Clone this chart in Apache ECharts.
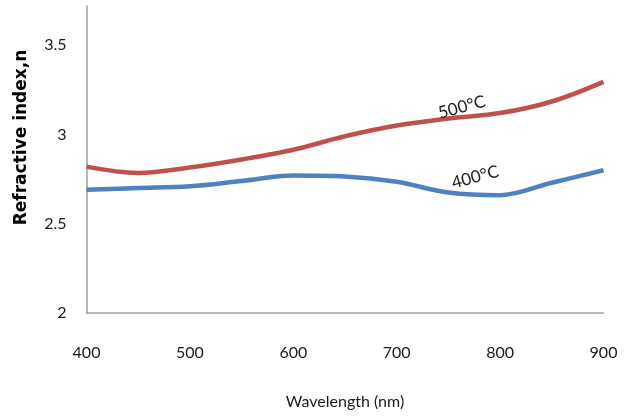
<!DOCTYPE html>
<html>
<head>
<meta charset="utf-8">
<script src="https://cdn.jsdelivr.net/npm/echarts@6/dist/echarts.min.js"></script>
<style>
  html, body { margin: 0; padding: 0; background: #ffffff; }
  #chart { width: 632px; height: 416px; }
</style>
</head>
<body>
<div id="chart"></div>
<script>
// Wavelength samples (nm) and refractive index for the two annealing temperatures
const wavelengths = [400, 450, 500, 550, 600, 650, 700, 750, 800, 850, 900];
const n500C = [2.82, 2.785, 2.815, 2.86, 2.915, 2.99, 3.05, 3.09, 3.12, 3.185, 3.295];
const n400C = [2.69, 2.70, 2.71, 2.74, 2.77, 2.765, 2.735, 2.675, 2.66, 2.73, 2.80];
const seriesNames = ['500°C', '400°C'];

const pairs = (xs, ys) => xs.map((x, i) => [x, ys[i]]);

const FONT = 'Lato, "Open Sans", sans-serif';

const chart = echarts.init(document.getElementById('chart'), null, { renderer: 'canvas' });

function curveLabel(text, coord) {
  return {
    symbol: 'circle',
    symbolSize: 0,
    silent: true,
    data: [{ coord: coord, value: text }],
    label: {
      show: true,
      position: 'inside',
      formatter: text,
      rotate: 15,
      color: '#1a1a1a',
      fontFamily: FONT,
      fontSize: 17
    }
  };
}

chart.setOption({
  backgroundColor: '#ffffff',
  animation: false,
  grid: { left: 86.5, right: 28.5, top: 6, bottom: 103, containLabel: false },
  xAxis: {
    type: 'value',
    min: 400,
    max: 900,
    interval: 100,
    name: 'Wavelength (nm)',
    nameLocation: 'middle',
    nameGap: 81,
    nameTextStyle: { color: '#1a1a1a', fontFamily: FONT, fontSize: 16 },
    axisLine: { show: true, lineStyle: { color: '#a0a0a0', width: 1.5 } },
    axisTick: { show: false },
    splitLine: { show: false },
    axisLabel: { color: '#1a1a1a', fontFamily: FONT, fontSize: 16, margin: 32 }
  },
  yAxis: {
    type: 'value',
    min: 2,
    max: 3.72,
    interval: 0.5,
    name: 'Refractive index,n',
    nameLocation: 'middle',
    nameGap: 56,
    nameRotate: 90,
    nameTextStyle: {
      color: '#000000', fontFamily: '"DejaVu Sans", sans-serif', fontSize: 17, fontWeight: 'bold',
      padding: [0, 0, 0, 44]
    },
    axisLine: { show: true, lineStyle: { color: '#a0a0a0', width: 1.5 } },
    axisTick: { show: false },
    splitLine: { show: false },
    axisLabel: {
      color: '#1a1a1a', fontFamily: FONT, fontSize: 16, margin: 20,
      showMaxLabel: false, padding: [4, 0, 0, 0],
      formatter: v => String(v)
    }
  },
  series: [
    {
      name: seriesNames[0],
      type: 'line',
      smooth: 0.35,
      showSymbol: false,
      data: pairs(wavelengths, n500C),
      lineStyle: { color: '#C0504D', width: 4.5 },
      itemStyle: { color: '#C0504D' },
      markPoint: curveLabel(seriesNames[0], [763, 3.153])
    },
    {
      name: seriesNames[1],
      type: 'line',
      smooth: 0.35,
      showSymbol: false,
      data: pairs(wavelengths, n400C),
      lineStyle: { color: '#4F81BD', width: 4.5 },
      itemStyle: { color: '#4F81BD' },
      markPoint: curveLabel(seriesNames[1], [776, 2.761])
    }
  ]
});
</script>
</body>
</html>
